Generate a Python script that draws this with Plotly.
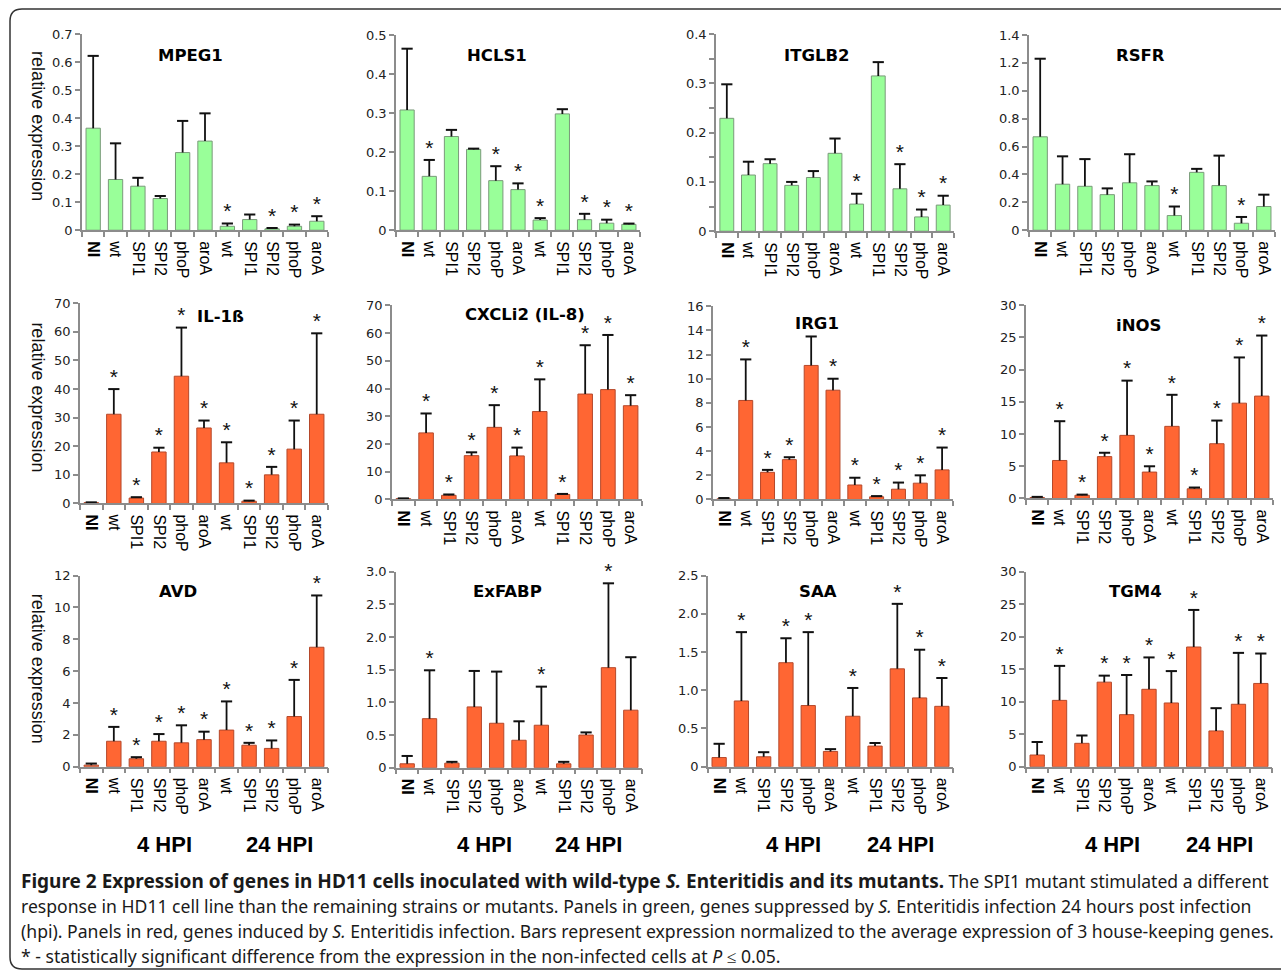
import plotly.graph_objects as go

W, H = 1281, 977

# ---------------- data ----------------
tick_labels = ["<b>NI</b>", "wt", "SPI1", "SPI2", "phoP", "aroA",
               "wt", "SPI1", "SPI2", "phoP", "aroA"]
x_pos = list(range(len(tick_labels)))

genes = ["MPEG1", "HCLS1", "ITGLB2", "RSFR",
         "IL-1ß", "CXCLi2 (IL-8)", "IRG1", "iNOS",
         "AVD", "ExFABP", "SAA", "TGM4"]

mpeg1_mean = [0.364, 0.181, 0.157, 0.113, 0.277, 0.318, 0.014, 0.038, 0.005, 0.014, 0.032]
mpeg1_upper = [0.622, 0.310, 0.187, 0.122, 0.390, 0.417, 0.024, 0.056, 0.008, 0.020, 0.050]
mpeg1_sig = [0, 0, 0, 0, 0, 0, 1, 0, 1, 1, 1]

hcls1_mean = [0.308, 0.138, 0.240, 0.207, 0.127, 0.104, 0.026, 0.298, 0.027, 0.018, 0.015]
hcls1_upper = [0.465, 0.180, 0.257, 0.209, 0.164, 0.120, 0.031, 0.310, 0.042, 0.027, 0.017]
hcls1_sig = [0, 1, 0, 0, 1, 1, 1, 0, 1, 1, 1]

itglb2_mean = [0.229, 0.114, 0.137, 0.093, 0.109, 0.158, 0.055, 0.315, 0.086, 0.029, 0.053]
itglb2_upper = [0.298, 0.141, 0.146, 0.100, 0.122, 0.188, 0.076, 0.343, 0.136, 0.044, 0.072]
itglb2_sig = [0, 0, 0, 0, 0, 0, 1, 0, 1, 1, 1]

rsfr_mean = [0.670, 0.330, 0.315, 0.255, 0.340, 0.320, 0.105, 0.415, 0.320, 0.050, 0.170]
rsfr_upper = [1.230, 0.530, 0.510, 0.300, 0.545, 0.350, 0.170, 0.440, 0.535, 0.095, 0.255]
rsfr_sig = [0, 0, 0, 0, 0, 0, 1, 0, 0, 1, 0]

il1b_mean = [0.3, 31.2, 1.9, 18.0, 44.5, 26.4, 14.2, 0.8, 10.0, 19.0, 31.2]
il1b_upper = [0.4, 40.0, 2.2, 19.5, 61.5, 29.0, 21.4, 1.0, 12.8, 29.0, 59.5]
il1b_sig = [0, 1, 1, 1, 1, 1, 1, 1, 1, 1, 1]

cxcli2_mean = [0.3, 24.0, 1.5, 15.8, 26.0, 15.7, 31.7, 1.8, 38.0, 39.6, 33.8]
cxcli2_upper = [0.4, 31.0, 1.8, 17.0, 34.0, 18.7, 43.3, 2.0, 55.6, 59.3, 37.6]
cxcli2_sig = [0, 1, 1, 1, 1, 1, 1, 1, 1, 1, 1]

irg1_mean = [0.05, 8.2, 2.25, 3.3, 11.1, 9.05, 1.2, 0.22, 0.85, 1.35, 2.45]
irg1_upper = [0.12, 11.6, 2.45, 3.5, 13.5, 10.0, 1.8, 0.28, 1.4, 2.0, 4.3]
irg1_sig = [0, 1, 1, 1, 0, 1, 1, 1, 1, 1, 1]

inos_mean = [0.15, 5.9, 0.5, 6.5, 9.8, 4.1, 11.2, 1.5, 8.5, 14.8, 15.9]
inos_upper = [0.25, 12.0, 0.6, 7.1, 18.3, 5.0, 16.1, 1.7, 12.1, 21.9, 25.3]
inos_sig = [0, 1, 1, 1, 1, 1, 1, 1, 1, 1, 1]

avd_mean = [0.1, 1.6, 0.5, 1.6, 1.5, 1.7, 2.3, 1.35, 1.15, 3.15, 7.5]
avd_upper = [0.2, 2.5, 0.6, 2.05, 2.6, 2.2, 4.1, 1.5, 1.65, 5.45, 10.75]
avd_sig = [0, 1, 1, 1, 1, 1, 1, 1, 1, 1, 1]

exfabp_mean = [0.06, 0.75, 0.07, 0.93, 0.68, 0.42, 0.65, 0.06, 0.50, 1.53, 0.88]
exfabp_upper = [0.18, 1.49, 0.09, 1.48, 1.47, 0.71, 1.24, 0.09, 0.54, 2.82, 1.69]
exfabp_sig = [0, 1, 0, 0, 0, 0, 1, 0, 0, 1, 0]

saa_mean = [0.12, 0.86, 0.13, 1.36, 0.80, 0.20, 0.66, 0.27, 1.28, 0.90, 0.79]
saa_upper = [0.30, 1.76, 0.19, 1.68, 1.76, 0.23, 1.03, 0.31, 2.13, 1.53, 1.16]
saa_sig = [0, 1, 0, 1, 1, 0, 1, 0, 1, 1, 1]

tgm4_mean = [1.8, 10.2, 3.6, 13.0, 8.0, 11.9, 9.8, 18.4, 5.5, 9.6, 12.8]
tgm4_upper = [3.8, 15.5, 4.8, 14.0, 14.1, 16.8, 14.7, 24.1, 9.0, 17.5, 17.4]
tgm4_sig = [0, 1, 0, 1, 1, 1, 1, 1, 0, 1, 1]

# y tick values / labels
mpeg1_yticks = [0, 0.1, 0.2, 0.3, 0.4, 0.5, 0.6, 0.7]
mpeg1_ylabels = ["0", "0.1", "0.2", "0.3", "0.4", "0.5", "0.6", "0.7"]
hcls1_yticks = [0, 0.1, 0.2, 0.3, 0.4, 0.5]
hcls1_ylabels = ["0", "0.1", "0.2", "0.3", "0.4", "0.5"]
itglb2_yticks = [0, 0.1, 0.2, 0.3, 0.4]
itglb2_ylabels = ["0", "0.1", "0.2", "0.3", "0.4"]
itglb2_minor_yticks = [0.05, 0.15, 0.25, 0.35]
rsfr_yticks = [0, 0.2, 0.4, 0.6, 0.8, 1.0, 1.2, 1.4]
rsfr_ylabels = ["0", "0.2", "0.4", "0.6", "0.8", "1.0", "1.2", "1.4"]
il1b_yticks = [0, 10, 20, 30, 40, 50, 60, 70]
cxcli2_yticks = [0, 10, 20, 30, 40, 50, 60, 70]
irg1_yticks = [0, 2, 4, 6, 8, 10, 12, 14, 16]
inos_yticks = [0, 5, 10, 15, 20, 25, 30]
avd_yticks = [0, 2, 4, 6, 8, 10, 12]
exfabp_yticks = [0, 0.5, 1.0, 1.5, 2.0, 2.5, 3.0]
exfabp_ylabels = ["0", "0.5", "1.0", "1.5", "2.0", "2.5", "3.0"]
saa_yticks = [0, 0.5, 1.0, 1.5, 2.0, 2.5]
saa_ylabels = ["0", "0.5", "1.0", "1.5", "2.0", "2.5"]
tgm4_yticks = [0, 5, 10, 15, 20, 25, 30]

y_title = "relative expression"
hpi_labels = ["4 HPI", "24 HPI"]

caption_lines = [
    "<span style=\"font-size:19px\"><b>Figure 2 Expression of genes in HD11 cells inoculated with wild-type <i>S.</i> Enteritidis and its mutants.</b></span> The SPI1 mutant stimulated a different",
    "response in HD11 cell line than the remaining strains or mutants. Panels in green, genes suppressed by <i>S.</i> Enteritidis infection 24 hours post infection",
    "(hpi). Panels in red, genes induced by <i>S.</i> Enteritidis infection. Bars represent expression normalized to the average expression of 3 house-keeping genes.",
    "* - statistically significant difference from the expression in the non-infected cells at <i>P</i> \u2264 0.05.",
]

panels = [
    (mpeg1_mean, mpeg1_upper, mpeg1_sig, mpeg1_yticks, mpeg1_ylabels),
    (hcls1_mean, hcls1_upper, hcls1_sig, hcls1_yticks, hcls1_ylabels),
    (itglb2_mean, itglb2_upper, itglb2_sig, itglb2_yticks, itglb2_ylabels),
    (rsfr_mean, rsfr_upper, rsfr_sig, rsfr_yticks, rsfr_ylabels),
    (il1b_mean, il1b_upper, il1b_sig, il1b_yticks, [str(v) for v in il1b_yticks]),
    (cxcli2_mean, cxcli2_upper, cxcli2_sig, cxcli2_yticks, [str(v) for v in cxcli2_yticks]),
    (irg1_mean, irg1_upper, irg1_sig, irg1_yticks, [str(v) for v in irg1_yticks]),
    (inos_mean, inos_upper, inos_sig, inos_yticks, [str(v) for v in inos_yticks]),
    (avd_mean, avd_upper, avd_sig, avd_yticks, [str(v) for v in avd_yticks]),
    (exfabp_mean, exfabp_upper, exfabp_sig, exfabp_yticks, exfabp_ylabels),
    (saa_mean, saa_upper, saa_sig, saa_yticks, saa_ylabels),
    (tgm4_mean, tgm4_upper, tgm4_sig, tgm4_yticks, [str(v) for v in tgm4_yticks]),
]

# ---------------- layout geometry (pixels of the target picture) ----------------
# (left, right, top-of-axis, zero-line)
boxes = [
    (82, 328, 35, 231), (396, 640, 36, 231), (716, 954, 35, 232), (1029, 1275, 36, 231),
    (80, 328, 304, 504), (392, 642, 306, 500), (713, 953, 307, 500), (1026, 1273, 306, 499),
    (80, 328, 576, 767), (396, 642, 572, 768), (708, 953, 576, 767), (1026, 1272, 572, 767),
]
title_xy = [
    (190, 56), (497, 56), (817, 56), (1140, 56),
    (220, 317), (525, 315), (817, 324), (1138, 326),
    (178, 592), (507, 592), (818, 592), (1135, 592),
]
ytitle_xy = [(38, 127), (38, 398), (38, 669)]
hpi_x = [(164, 279), (485, 588), (793, 900), (1112, 1219)]
hpi_y = 845

GREEN, GREEN_EDGE = "#99FF99", "#7a9a7a"
RED, RED_EDGE = "#FF6633", "#b5482a"
AXC = "#8c8c8c"
NUM_FONT = "DejaVu Sans"
LAB_FONT = "Liberation Sans"

# the photographed page maps paper height onto rows 8..969
Y_OFF, Y_SCALE = 8.0, 0.9837


def px(x):
    return x / W


def py(y):
    ys = (y - Y_OFF) / Y_SCALE
    return min(1.0, max(0.0, 1 - ys / H))


fig = go.Figure()
layout = {}
annotations = []

for i, (mean, upper, sig, yticks, ylabels) in enumerate(panels):
    k = i + 1
    xa = "x" if k == 1 else f"x{k}"
    ya = "y" if k == 1 else f"y{k}"
    fill, edge = (GREEN, GREEN_EDGE) if i < 4 else (RED, RED_EDGE)
    fig.add_trace(go.Bar(
        x=x_pos, y=mean, xaxis=xa, yaxis=ya, width=0.64,
        marker=dict(color=fill, line=dict(color=edge, width=1)),
        error_y=dict(type="data", symmetric=False,
                     array=[u - m for u, m in zip(upper, mean)],
                     arrayminus=[0] * len(mean), width=0, thickness=1.8, color="#111"),
        hoverinfo="skip",
    ))
    fig.add_trace(go.Scatter(
        x=x_pos, y=upper, xaxis=xa, yaxis=ya, mode="markers",
        marker=dict(symbol="line-ew", size=8, line=dict(width=2, color="#111")),
        hoverinfo="skip", cliponaxis=False,
    ))
    sx = [x for x, s in zip(x_pos, sig) if s]
    sy = [u for u, s in zip(upper, sig) if s]
    fig.add_trace(go.Scatter(
        x=sx, y=sy, xaxis=xa, yaxis=ya, mode="text", text=["*"] * len(sx),
        textposition="top center",
        textfont=dict(family=LAB_FONT, size=21, color="#111"),
        hoverinfo="skip", cliponaxis=False,
    ))
    x0, x1, yt, yb = boxes[i]
    xkey = "xaxis" if k == 1 else f"xaxis{k}"
    ykey = "yaxis" if k == 1 else f"yaxis{k}"
    layout[xkey] = dict(
        domain=[px(x0), px(x1)], range=[-0.5, len(x_pos) - 0.5], anchor=ya,
        tickmode="array", tickvals=x_pos, ticktext=tick_labels, tickangle=90,
        ticks="outside", ticklen=6, tickcolor="rgba(0,0,0,0)",
        showline=True, linecolor=AXC, linewidth=1.5,
        showgrid=False, zeroline=False, fixedrange=True,
        tickfont=dict(family=LAB_FONT, size=16, color="#000"),
        minor=dict(tickmode="array", tickvals=[j - 0.5 for j in range(len(x_pos) + 1)],
                   ticks="outside", ticklen=5, tickcolor=AXC, tickwidth=1.5, showgrid=False),
    )
    ydict = dict(
        domain=[py(yb), py(yt)], range=[0, yticks[-1]], anchor=xa,
        tickmode="array", tickvals=yticks, ticktext=ylabels,
        ticks="outside", ticklen=5, tickcolor=AXC, tickwidth=1.5,
        showline=True, linecolor=AXC, linewidth=1.5,
        showgrid=False, zeroline=False, fixedrange=True,
        tickfont=dict(family=NUM_FONT, size=13, color="#222"),
    )
    if i == 2:
        ydict["minor"] = dict(tickmode="array", tickvals=itglb2_minor_yticks,
                              ticks="outside", ticklen=5, tickcolor=AXC, tickwidth=1.5,
                              showgrid=False)
    layout[ykey] = ydict
    tx, ty = title_xy[i]
    annotations.append(dict(text=f"<b>{genes[i]}</b>", x=px(tx), y=py(ty), xref="paper", yref="paper",
                            showarrow=False, xanchor="center", yanchor="middle",
                            font=dict(family=NUM_FONT, size=16.5, color="#000")))

for (tx, ty) in ytitle_xy:
    annotations.append(dict(text=y_title, x=px(tx), y=py(ty), xref="paper", yref="paper",
                            showarrow=False, textangle=90, xanchor="center", yanchor="middle",
                            font=dict(family=LAB_FONT, size=18, color="#111")))

for (a, b) in hpi_x:
    for lab, hx in zip(hpi_labels, (a, b)):
        annotations.append(dict(text=f"<b>{lab}</b>", x=px(hx), y=py(hpi_y), xref="paper", yref="paper",
                                showarrow=False, xanchor="center", yanchor="middle",
                                font=dict(family=LAB_FONT, size=22, color="#000")))

for j, line in enumerate(caption_lines):
    annotations.append(dict(text=line, x=px(19), y=py(881 + 25 * j), xref="paper", yref="paper",
                            showarrow=False, xanchor="left", yanchor="middle", align="left",
                            font=dict(family="Noto Sans", size=17.6, color="#1a1a1a")))

# rounded border
bx0, by0, bx1, by1, r = 10, 10, 1295, 969, 12
path = (f"M {px(bx0 + r)},{py(by0)} L {px(bx1 - r)},{py(by0)} "
        f"Q {px(bx1)},{py(by0)} {px(bx1)},{py(by0 + r)} L {px(bx1)},{py(by1 - r)} "
        f"Q {px(bx1)},{py(by1)} {px(bx1 - r)},{py(by1)} L {px(bx0 + r)},{py(by1)} "
        f"Q {px(bx0)},{py(by1)} {px(bx0)},{py(by1 - r)} L {px(bx0)},{py(by0 + r)} "
        f"Q {px(bx0)},{py(by0)} {px(bx0 + r)},{py(by0)} Z")

fig.update_layout(
    width=W, height=H, margin=dict(l=0, r=0, t=0, b=0),
    paper_bgcolor="white", plot_bgcolor="white", showlegend=False,
    annotations=annotations,
    shapes=[dict(type="path", path=path, xref="paper", yref="paper",
                 line=dict(color="#333", width=1.5), layer="below")],
    **layout,
)

fig.write_html("out.html", config={"displayModeBar": False},
               post_script="document.body.style.margin='0px';")
